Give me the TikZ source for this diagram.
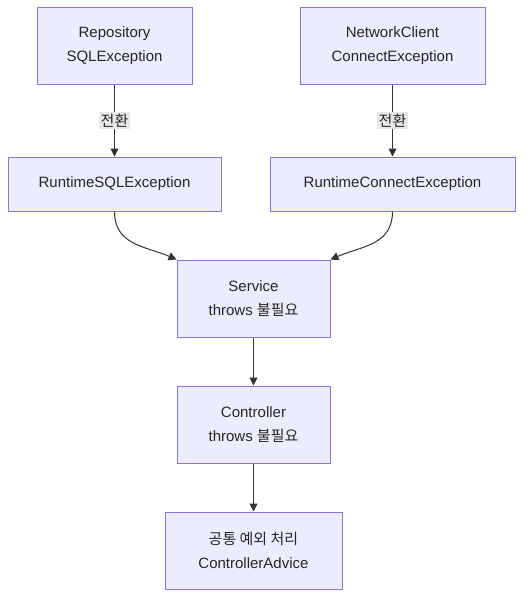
\documentclass[tikz,border=0pt]{standalone}
\usepackage{fontspec}
\setmainfont{Liberation Sans}
\newfontfamily\kr{Noto Sans CJK KR}
\usetikzlibrary{arrows.meta,positioning}
\definecolor{boxfill}{HTML}{ECECFF}
\definecolor{boxline}{HTML}{9370DB}
\definecolor{linkgray}{HTML}{333333}
\definecolor{labelfill}{HTML}{E8E8E8}

\begin{document}
\begin{tikzpicture}
	[ x=1pt, y=-1pt,
		construct/.style={rectangle,draw=boxline,fill=boxfill,line width=1pt,align=center,
			font=\fontsize{15}{24}\selectfont,text=black!85,inner sep=0pt},
		arrowOut/.style={-{Triangle[length=8pt,width=8pt]},draw=linkgray,line width=1pt},
		linkLabel/.style={fill=labelfill,inner sep=1.5pt,font=\fontsize{15}{18}\selectfont\kr,text=black!85}]

	\useasboundingbox (0,0) rectangle (531,606);

	\node[construct,minimum width=155pt,minimum height=77pt] (repo) at (114.5,45.5) {Repository\\SQLException};
	\node[construct,minimum width=185pt,minimum height=77pt] (client) at (392.5,45.5) {NetworkClient\\ConnectException};

	\node[construct,minimum width=213pt,minimum height=54pt] (sql rt) at (114.5,184) {RuntimeSQLException};
	\node[construct,minimum width=245pt,minimum height=54pt] (connect rt) at (392.5,184) {RuntimeConnectException};

	\node[construct,minimum width=153pt,minimum height=77pt] (service) at (253.5,298.5) {Service\\throws {\kr 불필요}};
	\node[construct,minimum width=153pt,minimum height=77pt] (controller) at (253.5,424.5) {Controller\\throws {\kr 불필요}};
	\node[construct,minimum width=177pt,minimum height=77pt] (advice) at (253.5,550.5) {{\kr 공통 예외 처리}\\ControllerAdvice};

	\draw[arrowOut] (repo) -- node[linkLabel] {전환} (sql rt);
	\draw[arrowOut] (client) -- node[linkLabel] {전환} (connect rt);

	\draw[arrowOut] (sql rt.south) .. controls (114.5,245) and (145,246) .. (service.north west);
	\draw[arrowOut] (connect rt.south) .. controls (392.5,245) and (362,246) .. (service.north east);

	\draw[arrowOut] (service) -- (controller);
	\draw[arrowOut] (controller) -- (advice);
\end{tikzpicture}
\end{document}
